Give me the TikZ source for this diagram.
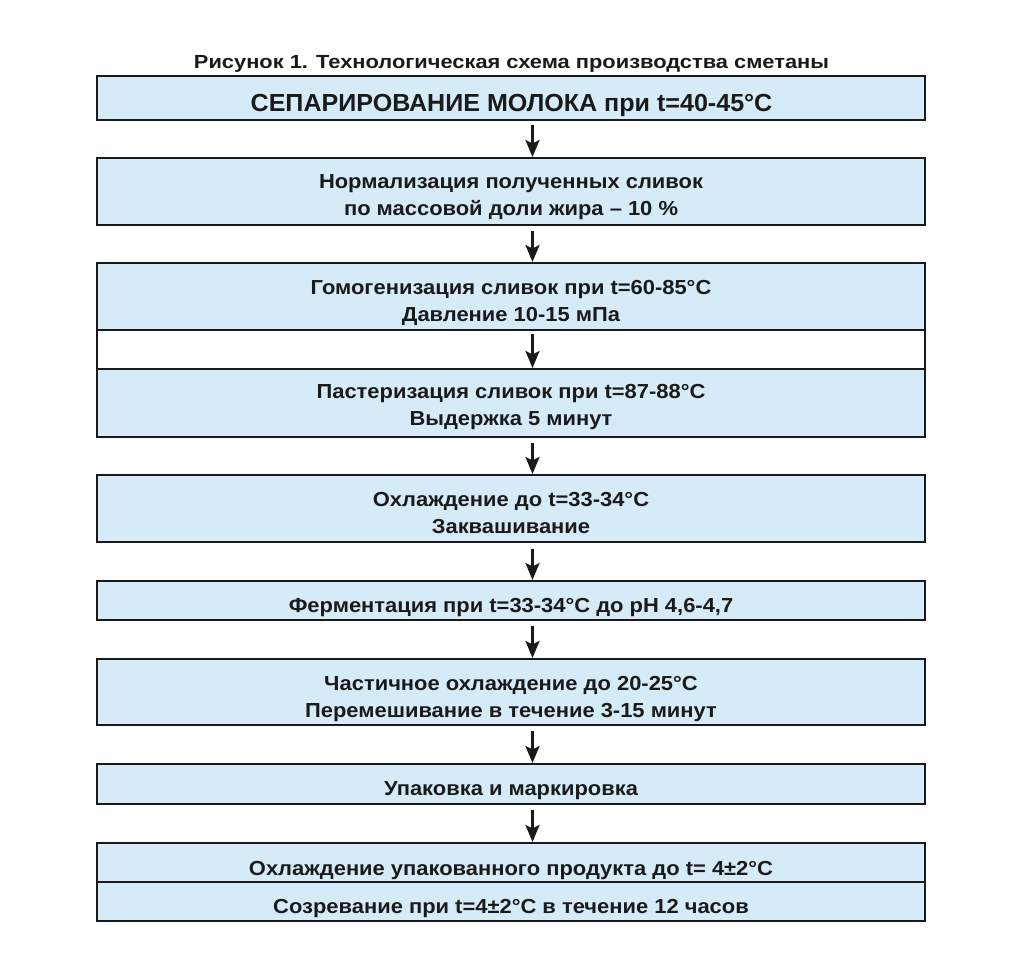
\documentclass[tikz,border=0pt]{standalone}
\usepackage{fontspec}
\setmainfont{Liberation Sans}
\newfontfamily\bodyf{Liberation Sans}[FakeStretch=1.08]
\newfontfamily\titlef{Liberation Sans}[FakeStretch=1.15]
\newfontfamily\headf{Liberation Sans}[FakeStretch=1.015]
\usetikzlibrary{arrows.meta}
\definecolor{boxfill}{RGB}{213,236,248}
\definecolor{ink}{RGB}{26,26,26}
\begin{document}
\begin{tikzpicture}[x=1pt,y=-1pt,
  stepbox/.style={draw=ink, line width=2pt, fill=boxfill, inner sep=0pt, minimum width=828pt, anchor=north},
  whitebox/.style={draw=ink, line width=2pt, fill=white, inner sep=0pt, minimum width=828pt, anchor=north},
  txt/.style={anchor=base, inner sep=0pt, text=ink, font=\bodyf\bfseries\fontsize{20.3}{25}\selectfont},
  arr/.style={draw=ink, line width=2.7pt, -{Stealth[length=17pt,width=14pt,inset=3.5pt]}}
]
\useasboundingbox[fill=white] (0,0) rectangle (1024,969);
% title
\node[txt, font=\titlef\bfseries\fontsize{19}{22}\selectfont] (title) at (511.5,68) {Рисунок 1. Технологическая схема производства сметаны};
% boxes
\node[stepbox, minimum height=44pt] (b1) at (511,75) {};
\node[stepbox, minimum height=67pt] (b2) at (511,157) {};
\node[stepbox, minimum height=67pt] (b3) at (511,262) {};
\node[whitebox, minimum height=39pt] (w) at (511,329) {};
\node[stepbox, minimum height=68pt] (b4) at (511,368) {};
\node[stepbox, minimum height=67pt] (b5) at (511,474) {};
\node[stepbox, minimum height=39pt] (b6) at (511,580) {};
\node[stepbox, minimum height=66pt] (b7) at (511,658) {};
\node[stepbox, minimum height=40pt] (b8) at (511,763) {};
\node[stepbox, minimum height=39pt] (b9) at (511,842) {};
\node[stepbox, minimum height=39pt] (b10) at (511,881) {};
% texts
\node[txt, font=\headf\bfseries\fontsize{24.7}{30}\selectfont] (t1) at (511.5,111) {СЕПАРИРОВАНИЕ МОЛОКА при t=40-45°C};
\node[txt] (t2a) at (511,188) {Нормализация полученных сливок};
\node[txt] (t2b) at (511,215) {по массовой доли жира – 10 \%};
\node[txt] (t3a) at (511,294) {Гомогенизация сливок при t=60-85°C};
\node[txt] (t3b) at (511,321) {Давление 10-15 мПа};
\node[txt] (t4a) at (511,398) {Пастеризация сливок при t=87-88°C};
\node[txt] (t4b) at (511,425) {Выдержка 5 минут};
\node[txt] (t5a) at (511,506) {Охлаждение до t=33-34°C};
\node[txt] (t5b) at (511,533) {Заквашивание};
\node[txt] (t6) at (511,612) {Ферментация при t=33-34°C до pH 4,6-4,7};
\node[txt] (t7a) at (511,690) {Частичное охлаждение до 20-25°C};
\node[txt] (t7b) at (511,717) {Перемешивание в течение 3-15 минут};
\node[txt] (t8) at (511,795) {Упаковка и маркировка};
\node[txt] (t9) at (511,875) {Охлаждение упакованного продукта до t= 4±2°C};
\node[txt] (t10) at (511,913) {Созревание при t=4±2°C в течение 12 часов};
% arrows
\draw[arr] ([xshift=21.5pt,yshift=-4pt]b1.south) -- ([xshift=21.5pt]b2.north);
\draw[arr] ([xshift=21.5pt,yshift=-5pt]b2.south) -- ([xshift=21.5pt]b3.north);
\draw[arr] ([xshift=21.5pt,yshift=-5pt]w.north) -- ([xshift=21.5pt]b4.north);
\draw[arr] ([xshift=21.5pt,yshift=-5pt]b4.south) -- ([xshift=21.5pt]b5.north);
\draw[arr] ([xshift=21.5pt,yshift=-6pt]b5.south) -- ([xshift=21.5pt]b6.north);
\draw[arr] ([xshift=21.5pt,yshift=-5pt]b6.south) -- ([xshift=21.5pt]b7.north);
\draw[arr] ([xshift=21.5pt,yshift=-5pt]b7.south) -- ([xshift=21.5pt]b8.north);
\draw[arr] ([xshift=21.5pt,yshift=-5pt]b8.south) -- ([xshift=21.5pt]b9.north);
\end{tikzpicture}
\end{document}
